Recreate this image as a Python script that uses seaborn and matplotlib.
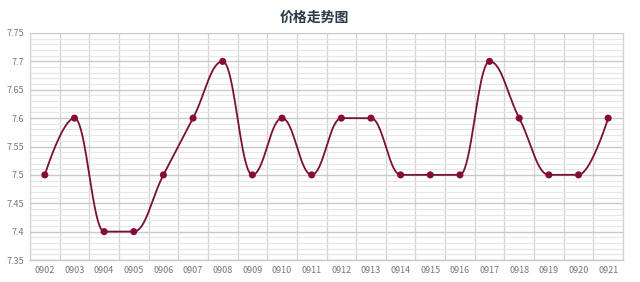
import numpy as np
import pandas as pd
import matplotlib
matplotlib.use("Agg")
import matplotlib.pyplot as plt
import seaborn as sns
from matplotlib.ticker import MultipleLocator

dates = ["0902", "0903", "0904", "0905", "0906", "0907", "0908", "0909", "0910", "0911",
         "0912", "0913", "0914", "0915", "0916", "0917", "0918", "0919", "0920", "0921"]
prices = [7.5, 7.6, 7.4, 7.4, 7.5, 7.6, 7.7, 7.5, 7.6, 7.5,
          7.6, 7.6, 7.5, 7.5, 7.5, 7.7, 7.6, 7.5, 7.5, 7.6]
title = "价格走势图"
ytick_vals = [7.35, 7.4, 7.45, 7.5, 7.55, 7.6, 7.65, 7.7, 7.75]

sns.set_theme(style="white")
plt.rcParams['font.family'] = ['Noto Sans CJK SC', 'DejaVu Sans']


def spline_path(xs, ys, smoothing=1.5, n=40):
    """Highcharts-style spline through points, returns dense x, y."""
    m = len(xs)
    lc = [(xs[i], ys[i]) for i in range(m)]
    rc = [(xs[i], ys[i]) for i in range(m)]
    denom = smoothing + 1
    for i in range(1, m - 1):
        px, py = xs[i], ys[i]
        lx, ly = xs[i - 1], ys[i - 1]
        nx, ny = xs[i + 1], ys[i + 1]
        lcx = (smoothing * px + lx) / denom
        lcy = (smoothing * py + ly) / denom
        rcx = (smoothing * px + nx) / denom
        rcy = (smoothing * py + ny) / denom
        if rcx != lcx:
            corr = ((rcy - lcy) * (rcx - px)) / (rcx - lcx) + py - rcy
            lcy += corr
            rcy += corr
        if lcy > ly and lcy > py:
            lcy = max(ly, py)
            rcy = 2 * py - lcy
        elif lcy < ly and lcy < py:
            lcy = min(ly, py)
            rcy = 2 * py - lcy
        if rcy > ny and rcy > py:
            rcy = max(ny, py)
            lcy = 2 * py - rcy
        elif rcy < ny and rcy < py:
            rcy = min(ny, py)
            lcy = 2 * py - rcy
        lc[i] = (lcx, lcy)
        rc[i] = (rcx, rcy)
    outx, outy = [xs[0]], [ys[0]]
    t = np.linspace(0, 1, n)[1:]
    for i in range(1, m):
        p0 = np.array([xs[i - 1], ys[i - 1]])
        p1 = np.array(rc[i - 1])
        p2 = np.array(lc[i])
        p3 = np.array([xs[i], ys[i]])
        pts = ((1 - t)[:, None] ** 3 * p0 + 3 * ((1 - t) ** 2 * t)[:, None] * p1
               + 3 * ((1 - t) * t ** 2)[:, None] * p2 + (t ** 3)[:, None] * p3)
        outx.extend(pts[:, 0])
        outy.extend(pts[:, 1])
    return np.array(outx), np.array(outy)


idx = np.arange(len(dates))
sx, sy = spline_path(idx.astype(float), prices)
curve = pd.DataFrame({"x": sx, "y": sy})
pts = pd.DataFrame({"x": idx, "y": prices})

fig = plt.figure(figsize=(6.4, 2.82), dpi=100)
ax = fig.add_axes([30 / 640, 22 / 282, 593 / 640, 227 / 282])

line_color = "#7a1034"
sns.lineplot(data=curve, x="x", y="y", sort=False, ax=ax, color=line_color,
             linewidth=1.3, zorder=3)
sns.scatterplot(data=pts, x="x", y="y", ax=ax, color="#850b3a", s=26,
                edgecolor="none", zorder=4)

ax.set_xlim(-0.5, len(dates) - 0.5)
ax.set_ylim(7.35, 7.75)
ax.set_xticks(idx)
ax.set_xticklabels(dates)
ax.set_yticks(ytick_vals)
ax.set_yticklabels([f"{v:g}" for v in ytick_vals])
ax.yaxis.set_minor_locator(MultipleLocator(0.01))
ax.set_xticks(np.arange(-0.5, len(dates), 1), minor=True)

ax.grid(False)
ax.grid(which="major", axis="y", color="#c9c9c9", linewidth=1.0)
ax.grid(which="minor", axis="y", color="#e6e6e6", linewidth=0.8)
ax.grid(which="minor", axis="x", color="#d2d2d2", linewidth=0.9)
ax.set_axisbelow(True)

ax.spines["top"].set_visible(False)
for side in ["left", "right"]:
    ax.spines[side].set_color("#d2d2d2")
    ax.spines[side].set_linewidth(0.9)
ax.spines["bottom"].set_color("#c9c9c9")
ax.spines["bottom"].set_linewidth(1.0)

ax.tick_params(axis="both", which="major", labelsize=6.5, colors="#777777", length=0, pad=4)
ax.tick_params(axis="x", which="minor", length=4, color="#cccccc", width=0.9)
ax.tick_params(axis="y", which="minor", length=0)
for lab in ax.get_xticklabels() + ax.get_yticklabels():
    lab.set_color("#777777")
ax.set_xlabel("")
ax.set_ylabel("")

fig.text(314 / 640, 1 - 18 / 282, title, ha="center", va="center", fontsize=10,
         fontweight="bold", color="#2b3a4a")

fig.savefig("out.png", dpi=100, facecolor="white")
